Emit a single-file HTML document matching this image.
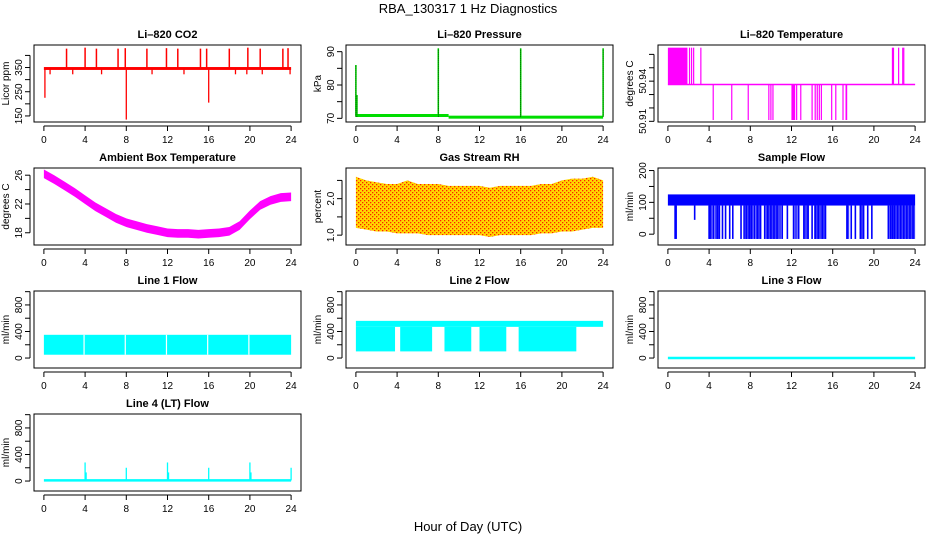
<!DOCTYPE html>
<html><head><meta charset="utf-8">
<style>
html,body{margin:0;padding:0;background:#fff;}
svg{display:block;font-family:"Liberation Sans",sans-serif;}
</style></head>
<body>
<svg id="chart" width="936" height="540" viewBox="0 0 936 540">
<defs>
<pattern id="rhpat" width="4" height="4" patternUnits="userSpaceOnUse">
<rect width="4" height="4" fill="#ffd800"/><rect width="1.3" height="1.3" fill="#ff2000"/><rect x="2" y="2" width="1.3" height="1.3" fill="#ff2000"/>
</pattern>
</defs>
<text x="468" y="13" text-anchor="middle" font-size="13">RBA_130317  1 Hz Diagnostics</text>
<text x="468" y="531" text-anchor="middle" font-size="13">Hour of Day (UTC)</text>
</svg>
<script>
// ---- data arrays ----
const xTicks = [0,4,8,12,16,20,24];
const co2Base = [340,352];
const co2UpTimes = [2.2,4,5.1,7.2,7.9,10,11.9,13,15.2,15.8,18,19.8,21,23.2,23.7];
const co2UpVals = [428,432,428,428,430,428,430,428,428,428,428,432,428,428,430];
const co2DownTimes = [0.1,8,16,0.6,2.8,5.6,10.5,13.6,18.6,19.7,21.2,23.9];
const co2DownVals = [225,135,205,322,322,322,322,322,322,322,322,322];
const presTimes1 = [0,9];
const presBase1 = [71,71];
const presTimes2 = [9,24];
const presBase2 = [70.5,70.5];
const presSpikeTimes = [0,0.1,8,16,24];
const presSpikeVals = [86,77,91,91,91];
const ltBase = 50.9375;
const ltBlock = [0,1.9];
const ltHigh = 50.965;
const ltLow = 50.911;
const ltUpTimes = [2.1,2.3,2.5,3.2,21.8,21.9,22.4,22.8,22.9];
const ltDownTimes = [4.4,6.2,7.8,9.8,10,10.2,12.05,12.1,12.2,12.3,12.5,12.9,14,14.3,14.5,14.7,14.9,15.9,16.3,17,17.3,17.35];
const hours = [0,1,2,3,4,5,6,7,8,9,10,11,12,13,14,15,16,17,18,19,20,21,22,23,24];
const ambTemp = [26.2,25.4,24.5,23.6,22.6,21.6,20.8,20.0,19.4,19.0,18.6,18.3,18.0,17.9,17.9,17.8,17.9,18.0,18.2,19.0,20.5,21.8,22.5,22.9,23.0];
const rhHigh = [2.6,2.5,2.45,2.4,2.4,2.5,2.4,2.4,2.4,2.35,2.35,2.35,2.35,2.3,2.35,2.35,2.35,2.35,2.4,2.4,2.5,2.55,2.55,2.6,2.5];
const rhLow = [1.2,1.15,1.1,1.1,1.05,1.05,1.05,1.0,1.0,1.0,1.0,1.0,1.0,0.95,1.0,1.0,1.0,1.0,1.05,1.05,1.1,1.1,1.15,1.2,1.2];
const sfBand = [90,125];
const sfDipTimes = [0.7,0.8,2.6,4,4.1,4.4,4.8,5,5.3,5.6,6,6.3,7.1,7.4,7.6,7.9,8.1,8.4,8.7,9,9.4,9.7,10,10.3,10.6,11.1,11.6,12.2,12.7,13.2,13.6,14,14.3,14.6,15,15.3,17.4,17.8,18.2,18.7,19,19.4,19.8,21.4,21.6,21.8,22,22.3,22.6,22.9,23.2,23.5,23.8];
const sfDipVals = [-15,-15,45,-15,-15,-15,-15,-15,-15,-15,-15,-15,-15,-15,-15,-15,-15,-15,-15,-15,-15,-15,-15,-15,-15,-15,-15,-15,-15,-15,-15,-15,-15,-15,-15,-15,-15,-15,-15,-15,-15,-15,-15,-15,-15,-15,-15,-15,-15,-15,-15,-15,-15];
const sfBlockStarts = [4.0,4.5,7.5,8.5,9.5,12.3,13.2,14.2,17.3,18.6,21.5];
const sfBlockEnds = [4.3,5.0,8.3,9.0,11.0,12.6,13.7,15.3,17.6,19.0,24.0];
const l1Band = [50,350];
const l1Gaps = [4,8,12,16,20];
const l2Top = [470,560];
const l2LowStarts = [0,4.3,8.6,12,15.8];
const l2LowEnds = [3.8,7.4,11.2,14.6,21.4];
const l2LowVal = 100;
const l3Val = 0;
const l4Base = 10;
const l4SpikeTimes = [4,4.1,8,12,12.1,16,20,20.1,24];
const l4SpikeVals = [280,130,200,280,130,200,280,130,200];

const NS = 'http://www.w3.org/2000/svg';
const svg = document.getElementById('chart');
function mk(tag, attrs, parent){const e=document.createElementNS(NS,tag);for(const k in attrs)e.setAttribute(k,attrs[k]);(parent||svg).appendChild(e);return e;}

const colLeft=[34,346,658], rowTop=[45,168,291,414], W=267, H=77;

function panel(col,row,name,title,ytitle,ylim,yticks,ylabels){
  const g=mk('g',{});
  
  
  const L=colLeft[col],T=rowTop[row];
  const xs=v=>L+(v+0.96)/25.92*W;
  const ys=v=>T+H-(v-ylim[0])/(ylim[1]-ylim[0])*H;
  const plot=mk('g',{},g);
  
  
  const clip='clip-'+name;
  const cp=mk('clipPath',{id:clip},g); mk('rect',{x:L,y:T,width:W,height:H},cp);
  plot.setAttribute('clip-path','url(#'+clip+')');
  const t=mk('text',{x:L+W/2,y:T-7,'text-anchor':'middle','font-size':'11','font-weight':'bold'},g);
  t.textContent=title;
  
  
  const yt=mk('text',{transform:`translate(${L-25},${T+H/2}) rotate(-90)`,'text-anchor':'middle','font-size':'10'},g);
  yt.textContent=ytitle;
  
  
  const box=mk('rect',{x:L,y:T,width:W,height:H,fill:'none',stroke:'#000','stroke-width':1},g);
  
  
  const xa=mk('g',{},g);
  
  
  mk('line',{x1:xs(0),x2:xs(24),y1:T+H+4,y2:T+H+4,stroke:'#000'},xa);
  xTicks.forEach(v=>{
    mk('line',{x1:xs(v),x2:xs(v),y1:T+H+4,y2:T+H+9,stroke:'#000'},xa);
    const tx=mk('text',{x:xs(v),y:T+H+21,'text-anchor':'middle','font-size':'10'},xa);
    tx.textContent=v;
  });
  const ya=mk('g',{},g);
  
  
  mk('line',{x1:L-4,x2:L-4,y1:ys(yticks[0]),y2:ys(yticks[yticks.length-1]),stroke:'#000'},ya);
  yticks.forEach(v=>{mk('line',{x1:L-9,x2:L-4,y1:ys(v),y2:ys(v),stroke:'#000'},ya);});
  ylabels.forEach(v=>{
    const tx=mk('text',{transform:`translate(${L-12},${ys(v)}) rotate(-90)`,'text-anchor':'middle','font-size':'10'},ya);
    tx.textContent=v;
  });
  return {xs,ys,plot};
}
function vline(p,x,y0,y1,c,w){return mk('line',{x1:p.xs(x),x2:p.xs(x),y1:p.ys(y0),y2:p.ys(y1),stroke:c,'stroke-width':w||1.2},p.plot);}
function band(p,x0,x1,y0,y1,c){return mk('rect',{x:p.xs(x0),y:p.ys(y1),width:p.xs(x1)-p.xs(x0),height:p.ys(y0)-p.ys(y1),fill:c},p.plot);}
function envelope(p,xa,hi,lo,fill){
  let d='M'+xa.map((x,i)=>p.xs(x)+','+p.ys(hi[i])).join('L');
  d+='L'+xa.slice().reverse().map((x,i)=>p.xs(x)+','+p.ys(lo[lo.length-1-i])).join('L')+'Z';
  return mk('path',{d,fill},p.plot);
}

// 1 CO2
let p=panel(0,0,'co2-panel','Li\u2013820 CO2','Licor ppm',[125,443],[150,200,250,300,350,400],[150,250,350]);
band(p,0,24,co2Base[0],co2Base[1],'#ff0000');
co2UpTimes.forEach((t,i)=>vline(p,t,345,co2UpVals[i],'#ff0000',1.5));
co2DownTimes.forEach((t,i)=>vline(p,t,345,co2DownVals[i],'#ff0000',1.3));
// 2 Pressure
p=panel(1,0,'pressure-panel','Li\u2013820 Pressure','kPa',[68.9,92],[70,75,80,85,90],[70,80,90]);
band(p,presTimes1[0],presTimes1[1],presBase1[0]-0.6,presBase1[1]+0.3,'#00dd00');
band(p,presTimes2[0],presTimes2[1],presBase2[0]-0.6,presBase2[1]+0.3,'#00dd00');
presSpikeTimes.forEach((t,i)=>{vline(p,t,70.5,presSpikeVals[i],'#00ee00',1.6);mk('line',{x1:p.xs(t),x2:p.xs(t),y1:p.ys(70.5),y2:p.ys(presSpikeVals[i]),stroke:'#000','stroke-width':0.8,'stroke-dasharray':'1,1'},p.plot);});
// 3 Li-820 Temp
p=panel(2,0,'li820-temperature-panel','Li\u2013820 Temperature','degrees C',[50.9095,50.967],[50.91,50.92,50.93,50.94,50.95,50.96],[50.91,50.94]);
band(p,ltBlock[0],ltBlock[1],ltBase,ltHigh,'#ff00ff');
mk('line',{x1:p.xs(0),x2:p.xs(24),y1:p.ys(ltBase),y2:p.ys(ltBase),stroke:'#ff00ff','stroke-width':1.5},p.plot);
ltUpTimes.forEach(t=>vline(p,t,ltBase,ltHigh,'#ff00ff',1.2));
ltDownTimes.forEach(t=>vline(p,t,ltBase,ltLow,'#ff00ff',1.2));
// 4 Ambient
p=panel(0,1,'ambient-temperature-panel','Ambient Box Temperature','degrees C',[16.3,27],[18,20,22,24,26],[18,22,26]);
envelope(p,hours,ambTemp.map(v=>v+0.6),ambTemp.map(v=>v-0.6),'#ff00ff');
// 5 RH
p=panel(1,1,'gas-rh-panel','Gas Stream RH','percent',[0.73,2.84],[1.0,1.5,2.0,2.5],['1.0','2.0']);
envelope(p,hours,rhHigh,rhLow,'url(#rhpat)');
// 6 Sample flow
p=panel(2,1,'sample-flow-panel','Sample Flow','ml/min',[-34,208],[0,50,100,150,200],[0,100,200]);
band(p,0,24,sfBand[0],sfBand[1],'#0000ff');
sfDipTimes.forEach((t,i)=>vline(p,t,sfBand[0],sfDipVals[i],'#0000ff',1.6));
sfBlockStarts.forEach((s,i)=>band(p,s,sfBlockEnds[i],-15,sfBand[0],'#0000ff').setAttribute('opacity','0.75'));
// 7 Line 1
p=panel(0,2,'line1-flow-panel','Line 1 Flow','ml/min',[-150,1010],[0,200,400,600,800,1000],[0,400,800]);
band(p,0,24,l1Band[0],l1Band[1],'#00ffff');
l1Gaps.forEach(t=>vline(p,t-0.1,l1Band[0],l1Band[1],'#ffffff',1.2));
// 8 Line 2
p=panel(1,2,'line2-flow-panel','Line 2 Flow','ml/min',[-150,1010],[0,200,400,600,800,1000],[0,400,800]);
band(p,0,24,l2Top[0],l2Top[1],'#00ffff');
l2LowStarts.forEach((s,i)=>band(p,s,l2LowEnds[i],l2LowVal,l2Top[0],'#00ffff'));
// 9 Line 3
p=panel(2,2,'line3-flow-panel','Line 3 Flow','ml/min',[-150,1010],[0,200,400,600,800,1000],[0,400,800]);
mk('line',{x1:p.xs(0),x2:p.xs(24),y1:p.ys(l3Val),y2:p.ys(l3Val),stroke:'#00ffff','stroke-width':2.5},p.plot);
// 10 Line 4
p=panel(0,3,'line4-flow-panel','Line 4 (LT) Flow','ml/min',[-150,1010],[0,200,400,600,800,1000],[0,400,800]);
mk('line',{x1:p.xs(0),x2:p.xs(24),y1:p.ys(l4Base),y2:p.ys(l4Base),stroke:'#00ffff','stroke-width':2.5},p.plot);
l4SpikeTimes.forEach((t,i)=>vline(p,t,l4Base,l4SpikeVals[i],'#00ffff',1.3));
</script>
</body></html>
